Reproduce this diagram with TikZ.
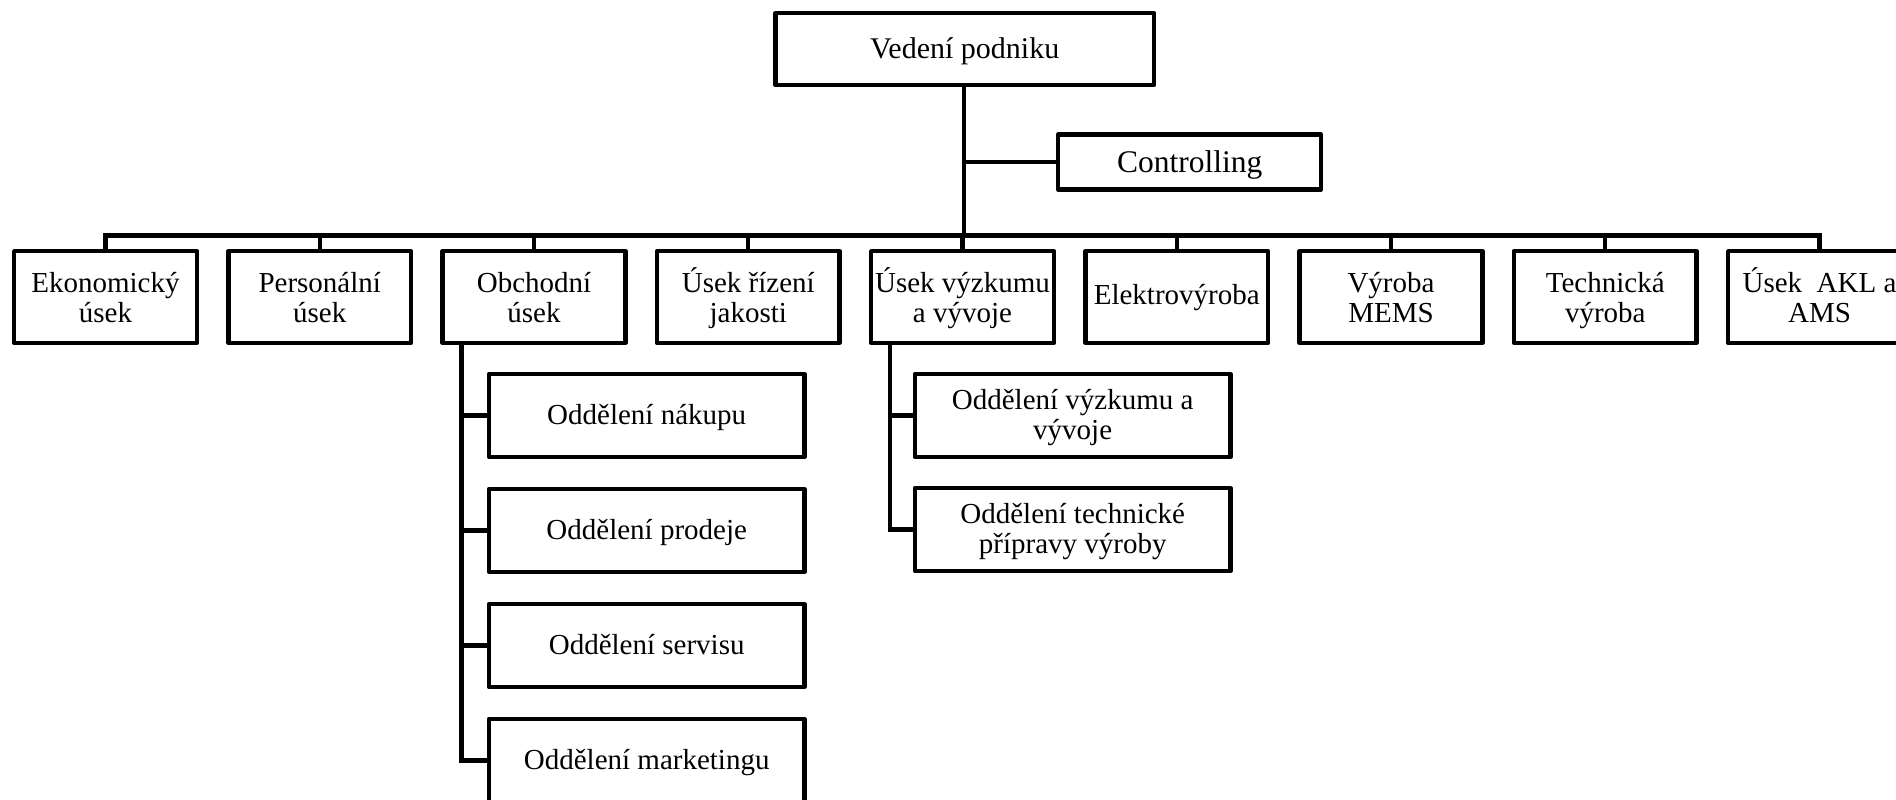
\documentclass[tikz,border=0pt]{standalone}
\usepackage{fontspec}
\setmainfont{Liberation Serif}
\newcommand\hst{\rule{0pt}{28pt}}
\newcommand\hdiv{\rule{0pt}{32pt}}
\newcommand\dst{\rule[-11pt]{0pt}{11pt}}
\newcommand\dsub{\rule[-10pt]{0pt}{10pt}}
\begin{document}
\begin{tikzpicture}[x=1pt,y=-1pt,
  lw/.style={line width=4.4pt},
  basebox/.style={draw,lw,line join=round,rectangle,align=center,inner sep=0pt,outer sep=0pt,
    font=\fontsize{29pt}{29pt}\selectfont},
  topbox/.style={basebox,minimum width=378.4pt,minimum height=72pt,font=\fontsize{30pt}{29pt}\selectfont},
  ctrlbox/.style={basebox,minimum width=263pt,minimum height=55pt,font=\fontsize{31.5pt}{30pt}\selectfont},
  divbox/.style={basebox,minimum width=182.7pt,minimum height=91.7pt,font=\fontsize{29pt}{29.3pt}\selectfont},
  subbox/.style={basebox,minimum width=315.7pt,minimum height=82.7pt,font=\fontsize{29pt}{30pt}\selectfont},
  conn/.style={lw,line cap=rect}
]
\clip (0,0) rectangle (1896,800);
\fill[white] (0,0) rectangle (1896,800);

\node[topbox] (ved) at (964.7,49.2) {\hst Vedení podniku\dsub};
\node[ctrlbox] (ctrl) at (1189.7,162) {\rule{0pt}{30pt}Controlling\dsub};

\node[divbox] (e1) at (105.5,297) {\hdiv Ekonomický\\úsek\dst};
\node[divbox] (e2) at (319.75,297) {\hdiv Personální\\úsek\dst};
\node[divbox] (e3) at (534,297) {\hdiv Obchodní\\úsek\dst};
\node[divbox] (e4) at (748.25,297) {\hdiv Úsek řízení\\jakosti\dst};
\node[divbox] (e5) at (962.5,297) {\hdiv Úsek výzkumu\\a vývoje\dst};
\node[divbox] (e6) at (1176.75,297) {\hst Elektrovýroba\rule[-14pt]{0pt}{14pt}};
\node[divbox] (e7) at (1391,297) {\hdiv Výroba\\MEMS\dst};
\node[divbox] (e8) at (1605.25,297) {\hdiv Technická\\výroba\dst};
\node[divbox] (e9) at (1819.5,297) {\hdiv Úsek\ \ AKL a\\AMS\dst};

\node[subbox] (o1) at (646.7,415.5) {\hst Oddělení nákupu\dsub};
\node[subbox] (o2) at (646.7,530.5) {\hst Oddělení prodeje\dsub};
\node[subbox] (o3) at (646.7,645.5) {\hst Oddělení servisu\dsub};
\node[subbox] (o4) at (646.7,760.5) {\hst Oddělení marketingu\dsub};

\node[subbox] (v1) at (1072.7,415.5) {\hst Oddělení výzkumu a\\vývoje\dsub};
\node[subbox] (v2) at (1072.7,529.5) {\hst Oddělení technické\\přípravy výroby\dsub};

\coordinate (busy) at (0,235.5);
\coordinate (trunk) at (964,0);

% trunk and bus
\draw[conn] (ved.south -| trunk) -- (trunk |- busy);
\draw[conn] (ctrl.west) -- (ctrl.west -| trunk);
\draw[conn] (e1.north |- busy) -- (e9.north |- busy);
\foreach \k in {1,...,9} {
  \draw[conn] (e\k.north) -- (e\k.north |- busy);
}

% Obchodni subtree
\path (e3.south west) ++(18.9,0) coordinate (ox);
\draw[conn,line join=miter] (ox) |- (o4.west);
\foreach \k in {1,2,3} {
  \draw[conn] (o\k.west) -- (o\k.west -| ox);
}

% Vyzkum subtree
\path (e5.south west) ++(18.9,0) coordinate (vx);
\draw[conn,line join=miter] (vx) |- (v2.west);
\draw[conn] (v1.west) -- (v1.west -| vx);
\end{tikzpicture}
\end{document}
